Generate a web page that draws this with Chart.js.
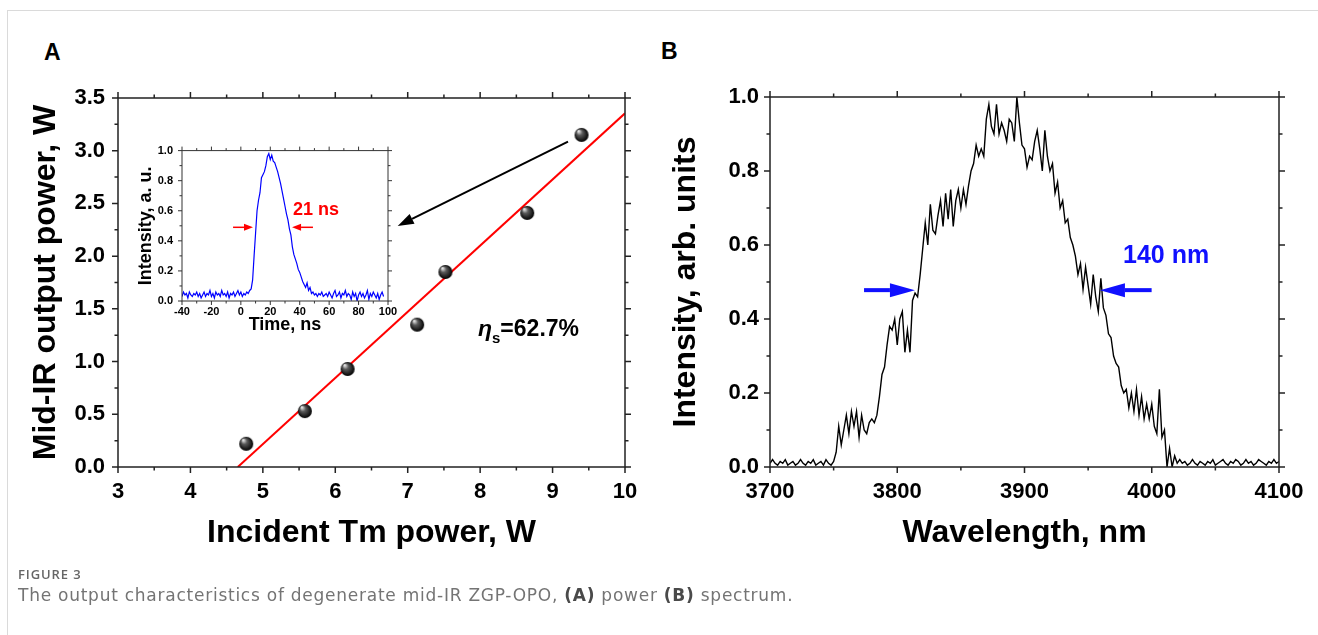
<!DOCTYPE html>
<html>
<head>
<meta charset="utf-8">
<title>Figure 3 - degenerate mid-IR ZGP-OPO</title>
<script src="https://cdn.jsdelivr.net/npm/chart.js@4.4.0/dist/chart.umd.min.js"></script>
<style>
  body { margin: 0; background: #fff; }
  #page { position: relative; width: 1318px; height: 635px; overflow: hidden; font-family: 'Liberation Sans', Arial, sans-serif; }
  .frame { position: absolute; left: 7px; top: 10px; width: 1400px; height: 700px; border-left: 1px solid #dadada; border-top: 1px solid #dadada; }
  canvas { position: absolute; }
  .panel { position: absolute; font-weight: bold; font-size: 23px; line-height: 1; color: #000; }
  .fig { position: absolute; left: 18px; top: 566px; font-family: 'Open Sans', sans-serif; font-weight: 600; font-size: 13px; line-height: 16px; letter-spacing: 0.9px; color: #666; }
  .cap { position: absolute; left: 18px; top: 585px; font-family: 'DejaVu Sans', sans-serif; font-size: 17px; line-height: 21px; letter-spacing: 0.75px; color: #747474; white-space: nowrap; }
  .cap b { color: #4a4a4a; }
</style>
</head>
<body>
<div id="page">
  <div class="frame"></div>
  <div class="panel" style="left:44px; top:41px;">A</div>
  <div class="panel" style="left:661px; top:40px;">B</div>
  <canvas id="powerChart" width="660" height="635" style="left:0; top:0;"></canvas>
  <canvas id="pulseChart" width="285" height="210" style="left:120px; top:135px;"></canvas>
  <canvas id="specChart" width="658" height="635" style="left:660px; top:0;"></canvas>
  <div class="fig">FIGURE 3</div>
  <div class="cap">The output characteristics of degenerate mid-IR ZGP-OPO, <b>(A)</b> power <b>(B)</b> spectrum.</div>
</div>

<script>
// (A) output power vs incident Tm power
const powerIn = [4.77, 5.58, 6.17, 7.13, 7.52, 8.65, 9.40];
const powerOut = [0.22, 0.53, 0.93, 1.35, 1.85, 2.41, 3.15];
// linear fit, slope efficiency 62.7 %
const fitX = [4.654, 10];
const fitY = [0, 3.355];

// inset: pulse shape, time in ns
const pulseTime = [
  -40,-39,-38,-37,-36,-35,-34,-33,-32,-31,-30,-29,-28,-27,-26,-25,-24,-23,-22,-21,
  -20,-19,-18,-17,-16,-15,-14,-13,-12,-11,-10,-9,-8,-7,-6,-5,-4,-3,-2,-1,
  0,1,2,3,4,5,6,7,8,9,10,11,12,13,14,15,16,17,18,19,
  20,21,22,23,24,25,26,27,28,29,30,31,32,33,34,35,36,37,38,39,
  40,41,42,43,44,45,46,47,48,49,50,51,52,53,54,55,56,57,58,59,
  60,61,62,63,64,65,66,67,68,69,70,71,72,73,74,75,76,77,78,79,
  80,81,82,83,84,85,86,87,88,89,90,91,92,93,94,95,96,97
];
const pulseInt = [
  0.03,0.06,0.04,0.05,0.02,0.06,0.04,0.03,0.05,0.04,0.06,0.03,0.05,0.02,0.04,0.06,0.03,0.05,0.04,0.07,
  0.03,0.05,0.02,0.06,0.04,0.05,0.03,0.07,0.04,0.05,0.03,0.06,0.02,0.05,0.04,0.06,0.03,0.05,0.07,0.04,
  0.06,0.03,0.05,0.04,0.06,0.05,0.07,0.08,0.14,0.30,0.45,0.60,0.67,0.72,0.82,0.84,0.86,0.90,0.96,0.98,
  0.94,0.97,0.93,0.92,0.89,0.86,0.82,0.78,0.73,0.68,0.63,0.58,0.54,0.48,0.44,0.36,0.31,0.28,0.25,0.21,
  0.19,0.16,0.13,0.11,0.09,0.12,0.07,0.09,0.05,0.06,0.04,0.05,0.03,0.05,0.04,0.06,0.03,0.04,0.05,0.03,
  0.06,0.04,0.02,0.05,0.07,0.03,0.04,0.06,0.02,0.05,0.04,0.07,0.03,0.05,0.04,0.01,0.06,0.03,0.05,0.00,
  0.04,0.06,0.03,0.05,0.02,0.04,0.07,0.01,0.05,0.03,0.06,0.04,0.02,0.05,0.01,0.04,0.06,0.03
];

// (B) spectrum, wavelength in nm
const specWave = [
  3700,3702,3704,3706,3708,3710,3712,3714,3716,3718,
  3720,3722,3724,3726,3728,3730,3732,3734,3736,3738,
  3740,3742,3744,3746,3748,3750,3752,3754,3756,3758,
  3760,3762,3764,3766,3768,3770,3772,3774,3776,3778,
  3780,3782,3784,3786,3788,3790,3792,3794,3796,3798,
  3800,3802,3804,3806,3808,3810,3812,3814,3816,3818,
  3820,3822,3824,3826,3828,3830,3832,3834,3836,3838,
  3840,3842,3844,3846,3848,3850,3852,3854,3856,3858,
  3860,3862,3864,3866,3868,3870,3872,3874,3876,3878,
  3880,3882,3884,3886,3888,3890,3892,3894,3896,3898,
  3900,3902,3904,3906,3908,3910,3912,3914,3916,3918,
  3920,3922,3924,3926,3928,3930,3932,3934,3936,3938,
  3940,3942,3944,3946,3948,3950,3952,3954,3956,3958,
  3960,3962,3964,3966,3968,3970,3972,3974,3976,3978,
  3980,3982,3984,3986,3988,3990,3992,3994,3996,3998,
  4000,4002,4004,4006,4008,4010,4012,4014,4016,4018,
  4020,4022,4024,4026,4028,4030,4032,4034,4036,4038,
  4040,4042,4044,4046,4048,4050,4052,4054,4056,4058,
  4060,4062,4064,4066,4068,4070,4072,4074,4076,4078,
  4080,4082,4084,4086,4088,4090,4092,4094,4096,4098,
  4100
];
const specInt = [
  0.010,0.020,0.010,0.005,0.015,0.010,0.020,0.005,0.010,0.015,
  0.005,0.010,0.020,0.010,0.005,0.015,0.010,0.020,0.005,0.010,
  0.015,0.005,0.020,0.010,0.005,0.015,0.04,0.11,0.06,0.10,
  0.14,0.09,0.15,0.11,0.15,0.08,0.14,0.10,0.09,0.12,
  0.13,0.12,0.14,0.19,0.25,0.27,0.33,0.38,0.37,0.40,
  0.33,0.40,0.42,0.31,0.37,0.31,0.45,0.47,0.46,0.52,
  0.59,0.66,0.60,0.71,0.64,0.63,0.68,0.72,0.65,0.74,
  0.67,0.75,0.65,0.72,0.75,0.70,0.75,0.71,0.76,0.80,
  0.82,0.87,0.84,0.86,0.84,0.94,0.98,0.92,0.90,0.98,
  0.90,0.93,0.91,0.88,0.94,0.93,0.88,1.00,0.93,0.87,
  0.86,0.81,0.84,0.83,0.88,0.91,0.86,0.80,0.91,0.84,
  0.80,0.82,0.74,0.77,0.70,0.72,0.66,0.67,0.62,0.60,
  0.57,0.52,0.55,0.48,0.54,0.49,0.44,0.52,0.46,0.42,
  0.51,0.43,0.41,0.36,0.35,0.30,0.28,0.27,0.22,0.20,
  0.21,0.16,0.20,0.15,0.21,0.14,0.19,0.13,0.17,0.13,
  0.17,0.11,0.09,0.21,0.08,0.10,0.00,0.05,0.00,0.03,
  0.010,0.020,0.010,0.015,0.005,0.010,0.020,0.010,0.005,0.015,
  0.010,0.005,0.015,0.010,0.020,0.005,0.010,0.015,0.020,0.010,
  0.005,0.015,0.010,0.020,0.015,0.005,0.010,0.020,0.010,0.015,
  0.005,0.010,0.020,0.015,0.010,0.005,0.015,0.010,0.020,0.010,
  0.015
];

const toXY = (xs, ys) => xs.map((v, i) => ({ x: v, y: ys[i] }));

Chart.defaults.font.family = "'Liberation Sans', Arial, sans-serif";
Chart.defaults.font.weight = 'bold';
Chart.defaults.color = '#000';
Chart.defaults.animation = false;
Chart.defaults.plugins.legend.display = false;
Chart.defaults.plugins.tooltip.enabled = false;

// box round the plot with major / minor ticks pointing out on every side
const frame = {
  id: 'frame',
  afterDatasetsDraw(chart, args, o) {
    const { ctx, chartArea: a, scales: { x, y } } = chart;
    ctx.save();
    ctx.strokeStyle = o.color;
    ctx.lineWidth = o.width;
    ctx.strokeRect(a.left, a.top, a.right - a.left, a.bottom - a.top);
    ctx.beginPath();
    const nx = Math.round((x.max - x.min) / o.xMinor);
    for (let i = 0; i <= nx; i++) {
      const px = x.getPixelForValue(x.min + i * o.xMinor);
      const len = i % o.xEvery === 0 ? o.major : o.minor;
      ctx.moveTo(px, a.bottom); ctx.lineTo(px, a.bottom + len);
      ctx.moveTo(px, a.top); ctx.lineTo(px, a.top - len);
    }
    const ny = Math.round((y.max - y.min) / o.yMinor);
    for (let i = 0; i <= ny; i++) {
      const py = y.getPixelForValue(y.min + i * o.yMinor);
      const len = i % o.yEvery === 0 ? o.major : o.minor;
      ctx.moveTo(a.left, py); ctx.lineTo(a.left - len, py);
      ctx.moveTo(a.right, py); ctx.lineTo(a.right + len, py);
    }
    ctx.stroke();
    ctx.restore();
  }
};

// arrows and labels placed in data units
const annotate = {
  id: 'annotate',
  afterDatasetsDraw(chart, args, o) {
    const { ctx, scales: { x, y } } = chart;
    (o.items || []).forEach(it => {
      ctx.save();
      if (it.type === 'arrow') {
        const x0 = x.getPixelForValue(it.from[0]), y0 = y.getPixelForValue(it.from[1]);
        const x1 = x.getPixelForValue(it.to[0]), y1 = y.getPixelForValue(it.to[1]);
        const ang = Math.atan2(y1 - y0, x1 - x0);
        const bx = x1 - it.head * Math.cos(ang), by = y1 - it.head * Math.sin(ang);
        ctx.strokeStyle = it.color;
        ctx.fillStyle = it.color;
        ctx.lineWidth = it.width;
        ctx.beginPath(); ctx.moveTo(x0, y0); ctx.lineTo(bx, by); ctx.stroke();
        ctx.beginPath();
        ctx.moveTo(x1, y1);
        ctx.lineTo(bx + it.half * Math.sin(ang), by - it.half * Math.cos(ang));
        ctx.lineTo(bx - it.half * Math.sin(ang), by + it.half * Math.cos(ang));
        ctx.closePath();
        ctx.fill();
      } else {
        let px = x.getPixelForValue(it.at[0]);
        const py = y.getPixelForValue(it.at[1]);
        ctx.fillStyle = it.color;
        ctx.textAlign = 'left';
        ctx.textBaseline = 'alphabetic';
        it.parts.forEach(p => {
          ctx.font = p.font;
          ctx.fillText(p.t, px, py + (p.dy || 0));
          px += ctx.measureText(p.t).width + (p.gap || 0);
        });
      }
      ctx.restore();
    });
  }
};

function axis(min, max, step, title, o) {
  return {
    type: 'linear', min, max,
    grid: { display: false, drawTicks: false },
    border: { display: false },
    ticks: { stepSize: step, padding: o.pad, font: { size: o.tick }, callback: o.fmt, autoSkip: false, maxRotation: 0 },
    title: { display: true, text: title, font: { size: o.title, lineHeight: 1 }, padding: 0 },
    afterFit: s => { if (s.isHorizontal()) s.height = o.size; else s.width = o.size; }
  };
}

function ball(r) {
  const c = document.createElement('canvas');
  c.width = c.height = 2 * r + 2;
  const g = c.getContext('2d');
  const grad = g.createRadialGradient(r * 0.7, r * 0.6, r * 0.1, r + 1, r + 1, r);
  grad.addColorStop(0, '#e0e0e0');
  grad.addColorStop(0.35, '#5a5a5a');
  grad.addColorStop(1, '#000');
  g.fillStyle = grad;
  g.beginPath();
  g.arc(r + 1, r + 1, r, 0, Math.PI * 2);
  g.fill();
  return c;
}

// panel A
new Chart(document.getElementById('powerChart'), {
  type: 'scatter',
  data: {
    datasets: [
      { data: toXY(powerIn, powerOut), pointStyle: ball(7), pointRadius: 7, order: 0 },
      { type: 'line', data: toXY(fitX, fitY), borderColor: '#ff0000', borderWidth: 2, pointRadius: 0, order: 1 }
    ]
  },
  options: {
    responsive: false,
    devicePixelRatio: 1,
    layout: { padding: { left: 30, right: 35, top: 98, bottom: 86 } },
    scales: {
      x: axis(3, 10, 1, 'Incident Tm power, W', { pad: 12, tick: 22, title: 32, size: 82, fmt: v => String(v) }),
      y: axis(0, 3.5, 0.5, 'Mid-IR output power, W', { pad: 13, tick: 22, title: 32, size: 88, fmt: v => v.toFixed(1) })
    },
    plugins: {
      frame: { color: '#222', width: 1.5, major: 6, minor: 3.5, xMinor: 0.5, xEvery: 2, yMinor: 0.25, yEvery: 2 },
      annotate: {
        items: [
          { type: 'arrow', from: [9.213, 3.086], to: [6.862, 2.286], color: '#000', width: 2, head: 16, half: 5.5 },
          { type: 'text', at: [7.97, 1.243], color: '#000', parts: [
            { t: 'η', font: 'italic bold 23px "Liberation Sans", Arial, sans-serif' },
            { t: 's', font: 'bold 15px "Liberation Sans", Arial, sans-serif', dy: 7 },
            { t: '=62.7%', font: 'bold 23px "Liberation Sans", Arial, sans-serif' }
          ] }
        ]
      }
    }
  },
  plugins: [frame, annotate]
});

// inset of panel A
new Chart(document.getElementById('pulseChart'), {
  type: 'line',
  data: {
    datasets: [
      { data: toXY(pulseTime, pulseInt), borderColor: '#0000ff', borderWidth: 1.2, pointRadius: 0, tension: 0 }
    ]
  },
  options: {
    responsive: false,
    devicePixelRatio: 1,
    layout: { padding: { left: 17, right: 17, top: 15, bottom: 11 } },
    scales: {
      x: axis(-40, 100, 20, 'Time, ns', { pad: 4, tick: 11, title: 18, size: 33, fmt: v => String(v) }),
      y: axis(0, 1, 0.2, 'Intensity, a. u.', { pad: 9, tick: 11, title: 18, size: 45, fmt: v => v.toFixed(1) })
    },
    plugins: {
      frame: { color: '#333', width: 1, major: 4, minor: 2.5, xMinor: 10, xEvery: 2, yMinor: 0.1, yEvery: 2 },
      annotate: {
        items: [
          { type: 'arrow', from: [-5.3, 0.49], to: [8.25, 0.49], color: '#ff0000', width: 1.5, head: 9, half: 3.5 },
          { type: 'arrow', from: [49.0, 0.49], to: [34.8, 0.49], color: '#ff0000', width: 1.5, head: 9, half: 3.5 },
          { type: 'text', at: [35.4, 0.573], color: '#ff0000', parts: [
            { t: '21 ns', font: 'bold 18px "Liberation Sans", Arial, sans-serif' }
          ] }
        ]
      }
    }
  },
  plugins: [frame, annotate]
});

// panel B
new Chart(document.getElementById('specChart'), {
  type: 'line',
  data: {
    datasets: [
      { data: toXY(specWave, specInt), borderColor: '#000', borderWidth: 1.4, pointRadius: 0, tension: 0 }
    ]
  },
  options: {
    responsive: false,
    devicePixelRatio: 1,
    layout: { padding: { left: 10, right: 39, top: 97, bottom: 86 } },
    scales: {
      x: axis(3700, 4100, 100, 'Wavelength, nm', { pad: 12, tick: 22, title: 32, size: 82, fmt: v => String(v) }),
      y: axis(0, 1, 0.2, 'Intensity, arb. units', { pad: 11, tick: 22, title: 32, size: 100, fmt: v => v.toFixed(1) })
    },
    plugins: {
      frame: { color: '#222', width: 1.5, major: 6, minor: 3.5, xMinor: 50, xEvery: 2, yMinor: 0.1, yEvery: 2 },
      annotate: {
        items: [
          { type: 'arrow', from: [3773.9, 0.478], to: [3813.9, 0.478], color: '#1010ff', width: 4, head: 25, half: 7 },
          { type: 'arrow', from: [3999.9, 0.478], to: [3959.3, 0.478], color: '#1010ff', width: 4, head: 25, half: 7 },
          { type: 'text', at: [3977.4, 0.551], color: '#1010ff', parts: [
            { t: '140 nm', font: 'bold 25px "Liberation Sans", Arial, sans-serif' }
          ] }
        ]
      }
    }
  },
  plugins: [frame, annotate]
});
</script>
</body>
</html>
